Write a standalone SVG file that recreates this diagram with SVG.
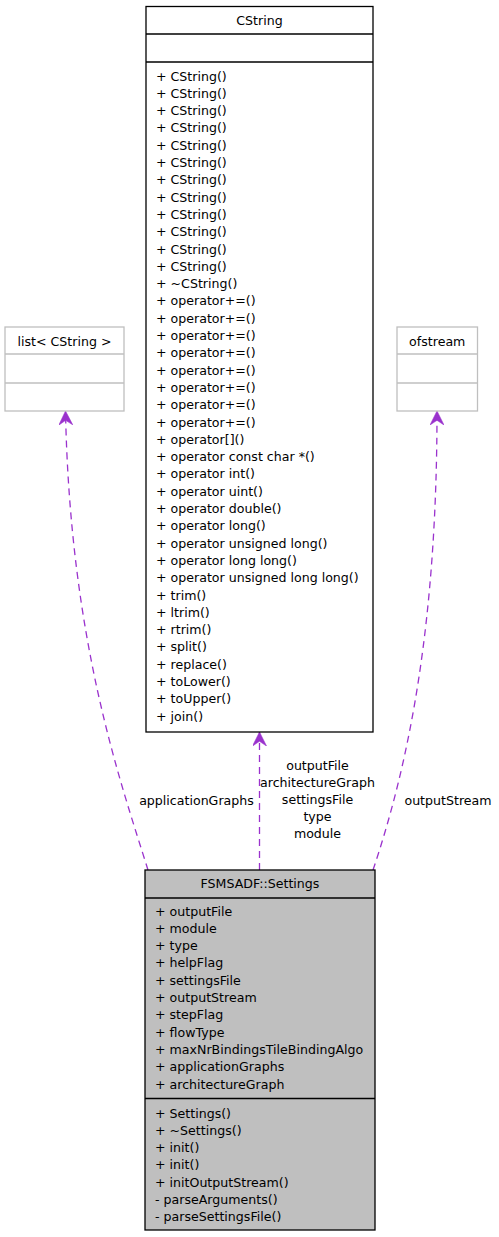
<svg xmlns="http://www.w3.org/2000/svg" width="499" height="1237" viewBox="0 0 499 1237">
<style>
text{font-family:"DejaVu Sans","Liberation Sans",sans-serif;font-size:12.6px;fill:#000}
.c{text-anchor:middle}
.box{fill:#fff;stroke:#000;stroke-width:1.3}
.main{fill:#bfbfbf;stroke:#000;stroke-width:1.3}
.ext{fill:#fff;stroke:#bfbfbf;stroke-width:1.3}
.sep{stroke:#000;stroke-width:1.3}
.sepx{stroke:#bfbfbf;stroke-width:1.3}
.edge{fill:none;stroke:#9a32cd;stroke-width:1.3;stroke-dasharray:7,5}
</style>
<defs>
<marker id="vee" markerUnits="userSpaceOnUse" markerWidth="14" markerHeight="14" refX="12" refY="6" orient="auto" viewBox="0 0 12 12">
<path d="M0,0 L12,6 L0,12 L4,6 Z" fill="#9a32cd" stroke="#9a32cd" stroke-width="0.5"/>
</marker>
</defs>
<g id="connectors">
<path class="edge" d="M259.5,870 L259.5,732" marker-end="url(#vee)"/>
<path class="edge" d="M148,870 C120,780 70,640 65.5,411" marker-end="url(#vee)"/>
<path class="edge" d="M373,870 C410,760 437,620 437,411" marker-end="url(#vee)"/>
<text class="c" x="317.5" y="770">outputFile</text>
<text class="c" x="317.5" y="787">architectureGraph</text>
<text class="c" x="317.5" y="804">settingsFile</text>
<text class="c" x="317.5" y="821">type</text>
<text class="c" x="317.5" y="838">module</text>
<text class="c" x="196.5" y="804.5">applicationGraphs</text>
<text class="c" x="448" y="804.5">outputStream</text>
</g>
<g id="CString">
<rect class="box" x="146" y="6.5" width="227" height="725.5"/>
<line class="sep" x1="146" y1="34" x2="373" y2="34"/>
<line class="sep" x1="146" y1="62" x2="373" y2="62"/>
<text class="c" x="259.5" y="25">CString</text>
<text x="156" y="80.5">+ CString()</text>
<text x="156" y="97.8">+ CString()</text>
<text x="156" y="115.1">+ CString()</text>
<text x="156" y="132.4">+ CString()</text>
<text x="156" y="149.7">+ CString()</text>
<text x="156" y="167">+ CString()</text>
<text x="156" y="184.3">+ CString()</text>
<text x="156" y="201.6">+ CString()</text>
<text x="156" y="218.9">+ CString()</text>
<text x="156" y="236.2">+ CString()</text>
<text x="156" y="253.5">+ CString()</text>
<text x="156" y="270.8">+ CString()</text>
<text x="156" y="288.1">+ ~CString()</text>
<text x="156" y="305.4">+ operator+=()</text>
<text x="156" y="322.7">+ operator+=()</text>
<text x="156" y="340">+ operator+=()</text>
<text x="156" y="357.3">+ operator+=()</text>
<text x="156" y="374.6">+ operator+=()</text>
<text x="156" y="391.9">+ operator+=()</text>
<text x="156" y="409.2">+ operator+=()</text>
<text x="156" y="426.5">+ operator+=()</text>
<text x="156" y="443.8">+ operator[]()</text>
<text x="156" y="461.1">+ operator const char *()</text>
<text x="156" y="478.4">+ operator int()</text>
<text x="156" y="495.7">+ operator uint()</text>
<text x="156" y="513">+ operator double()</text>
<text x="156" y="530.3">+ operator long()</text>
<text x="156" y="547.6">+ operator unsigned long()</text>
<text x="156" y="564.9">+ operator long long()</text>
<text x="156" y="582.2">+ operator unsigned long long()</text>
<text x="156" y="599.5">+ trim()</text>
<text x="156" y="616.8">+ ltrim()</text>
<text x="156" y="634.1">+ rtrim()</text>
<text x="156" y="651.4">+ split()</text>
<text x="156" y="668.7">+ replace()</text>
<text x="156" y="686">+ toLower()</text>
<text x="156" y="703.3">+ toUpper()</text>
<text x="156" y="720.6">+ join()</text>
</g>
<g id="list_CString">
<rect class="ext" x="5" y="327" width="119" height="84"/>
<line class="sepx" x1="5" y1="354" x2="124" y2="354"/>
<line class="sepx" x1="5" y1="383" x2="124" y2="383"/>
<text class="c" x="64.5" y="345.5">list&lt; CString &gt;</text>
</g>
<g id="ofstream">
<rect class="ext" x="397" y="327" width="80.5" height="84"/>
<line class="sepx" x1="397" y1="354" x2="477.5" y2="354"/>
<line class="sepx" x1="397" y1="383" x2="477.5" y2="383"/>
<text class="c" x="437.25" y="345.5">ofstream</text>
</g>
<g id="Settings">
<rect class="main" x="145" y="870" width="230" height="360"/>
<line class="sep" x1="145" y1="898" x2="375" y2="898"/>
<line class="sep" x1="145" y1="1098.5" x2="375" y2="1098.5"/>
<text class="c" x="260" y="887.5">FSMSADF::Settings</text>
<text x="155" y="915.5">+ outputFile</text>
<text x="155" y="932.8">+ module</text>
<text x="155" y="950.1">+ type</text>
<text x="155" y="967.4">+ helpFlag</text>
<text x="155" y="984.7">+ settingsFile</text>
<text x="155" y="1002">+ outputStream</text>
<text x="155" y="1019.3">+ stepFlag</text>
<text x="155" y="1036.6">+ flowType</text>
<text x="155" y="1053.9">+ maxNrBindingsTileBindingAlgo</text>
<text x="155" y="1071.2">+ applicationGraphs</text>
<text x="155" y="1088.5">+ architectureGraph</text>
<text x="155" y="1117.5">+ Settings()</text>
<text x="155" y="1134.8">+ ~Settings()</text>
<text x="155" y="1152.1">+ init()</text>
<text x="155" y="1169.4">+ init()</text>
<text x="155" y="1186.7">+ initOutputStream()</text>
<text x="155" y="1204">- parseArguments()</text>
<text x="155" y="1221.3">- parseSettingsFile()</text>
</g>
</svg>
